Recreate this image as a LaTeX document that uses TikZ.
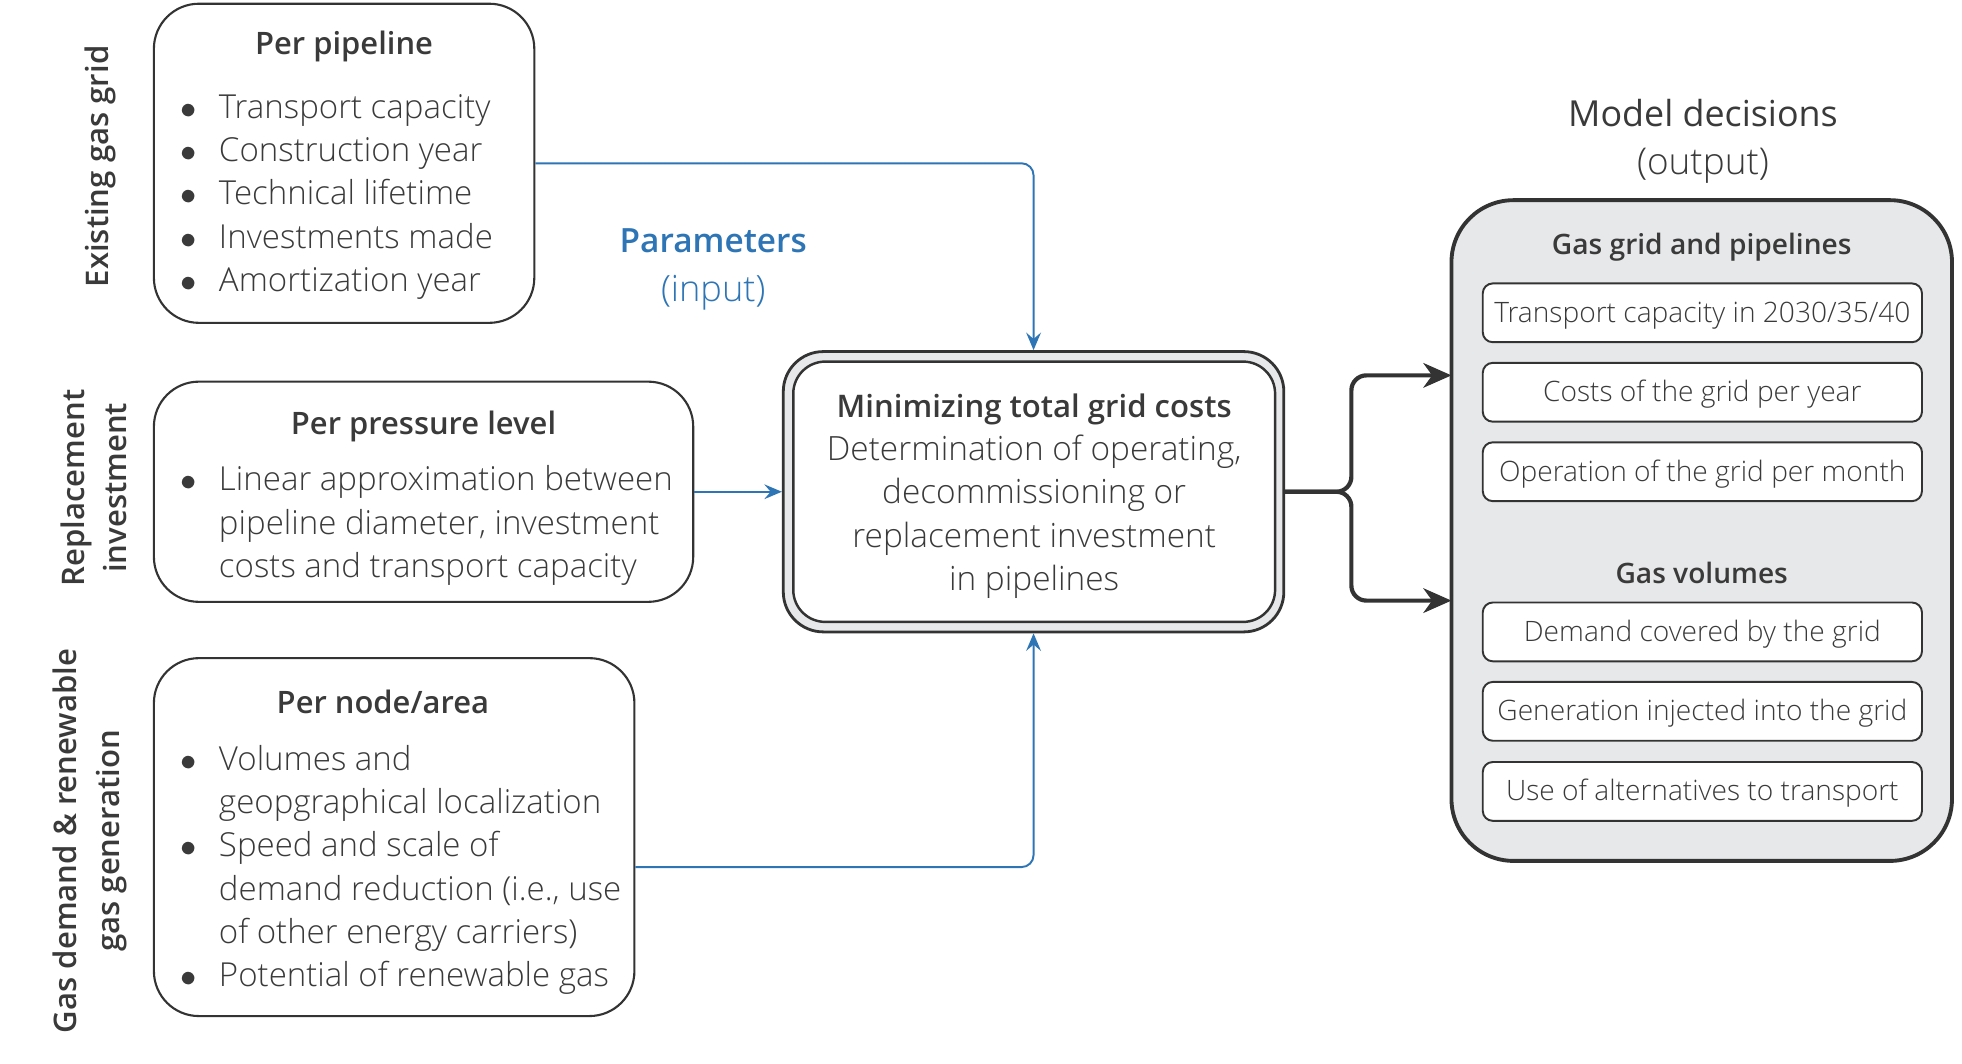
\documentclass[tikz,border=0pt]{standalone}
\usepackage{fontspec}
\setmainfont{Open Sans}[UprightFont=* Light, BoldFont=* Semibold]
\newfontfamily\regfont{Open Sans}
\usetikzlibrary{arrows.meta}

\definecolor{txtgray}{HTML}{3A3A3A}
\definecolor{parblue}{HTML}{2E75B6}
\definecolor{boxgray}{HTML}{E7E8EA}
\definecolor{linegray}{HTML}{333333}

\newlength{\bulw}\setlength{\bulw}{0.388cm}
\newcommand{\bitem}[1]{\par\noindent\makebox[\bulw][l]{$\bullet$}\mbox{#1}}
\newcommand{\bnext}[1]{\par\noindent\hspace*{\bulw}\mbox{#1}}
\newcommand{\boxhead}[2]{{\centering\bfseries\fontsize{8.8}{12.3}\selectfont #1\par}\vspace{#2}\raggedright\leftskip=0.263cm\relax}

\tikzset{
  inbox/.style={draw=linegray, line width=0.6pt, rounded corners=0.45cm, inner sep=0pt, text=txtgray,
    font=\fontsize{9.4}{12.3}\selectfont},
  sidelabel/.style={rotate=90, align=center, text=txtgray, font=\fontsize{8.85}{12.1}\selectfont\bfseries},
  outbox/.style={draw=linegray, fill=white, line width=0.55pt, rounded corners=0.1cm, inner sep=0pt,
    minimum width=4.392cm, minimum height=0.588cm, text height=0.6em, text depth=0.06em,
    text=txtgray, font=\fontsize{8}{12.3}\selectfont},
  subhead/.style={text=txtgray, text height=0.6em, text depth=0.06em, font=\fontsize{8}{12.3}\selectfont\bfseries},
  inarrow/.style={draw=parblue, line width=0.55pt, rounded corners=0.12cm, -{Stealth[length=5pt,width=4.2pt,inset=1.8pt]}},
  outarrow/.style={draw=linegray, line width=1.2pt, rounded corners=0.15cm, -{Stealth[length=8pt,width=7pt,inset=2.5pt]}}
}

\begin{document}
\begin{tikzpicture}[x=0.012513cm, y=-0.012513cm]
    \useasboundingbox (0,0) rectangle (1568,850);

    % input side
    \node[sidelabel] (gridlabel) at (80,133) {Existing gas grid};
    \node[sidelabel] (replabel) at (75,390) {Replacement\\investment};
    \node[sidelabel] (demlabel) at (72,672) {Gas demand \& renewable\\gas generation};

    \node[inbox, minimum width=3.804cm, minimum height=3.191cm] (pipeline) at (275,130.5) {\begin{minipage}{3.804cm}
        \vspace*{1pt}
        \boxhead{Per pipeline}{5.9pt}
        \bitem{Transport capacity}
        \bitem{Construction year}
        \bitem{Technical lifetime}
        \bitem{Investments made}
        \bitem{Amortization year}
    \end{minipage}};
    \node[inbox, minimum width=5.393cm, minimum height=2.202cm] (pressure) at (338.5,393) {\begin{minipage}{5.393cm}
        \vspace*{3.6pt}
        \boxhead{Per pressure level}{3.8pt}
        \bitem{Linear approximation between}
        \bnext{pipeline diameter, investment}
        \bnext{costs and transport capacity}
    \end{minipage}};
    \node[inbox, minimum width=4.805cm, minimum height=3.579cm] (area) at (315,669) {\begin{minipage}{4.805cm}
        \vspace*{2.8pt}
        \boxhead{Per node/area\hspace*{0.225cm}}{4pt}
        \bitem{Volumes and}
        \bnext{geopgraphical localization}
        \bitem{Speed and scale of}
        \bnext{demand reduction (i.e., use}
        \bnext{of other energy carriers)}
        \bitem{Potential of renewable gas}
    \end{minipage}};

    \node[align=center, text=parblue, font=\fontsize{10.3}{13.9}\selectfont] (params) at (570,215) {{\bfseries\fontsize{9.5}{13.9}\selectfont Parameters}\\(input)};

    % model
    \node[draw=linegray, line width=0.8pt, fill=boxgray, rounded corners=0.4cm, minimum width=5.005cm, minimum height=2.803cm] (mincost) at (826,393) {};
    \node[draw=linegray, line width=0.7pt, fill=white, rounded corners=0.32cm, minimum width=4.818cm, minimum height=2.603cm,
        align=center, text=txtgray, font=\fontsize{9.5}{12.3}\selectfont] (mincostin) at (826.5,393)
        {\rule{0pt}{9.2pt}{\bfseries\fontsize{8.85}{12.3}\selectfont Minimizing total grid costs}\\Determination of operating,\\decommissioning or\\replacement investment\\in pipelines};

    % output side
    \node[align=center, text=txtgray, font=\fontsize{10.5}{13.5}\selectfont] (decisionshead) at (1361,113) {{\regfont\fontsize{10.2}{13.5}\selectfont Model decisions}\\(output)};
    \node[draw=linegray, line width=1.1pt, fill=boxgray, rounded corners=0.62cm, minimum width=5.005cm, minimum height=6.607cm] (decisions) at (1360,424) {};
    \node[subhead] (gridhead) at (1360,196) {Gas grid and pipelines};
    \node[outbox] (capout) at (1360.5,250) {Transport capacity in 2030/35/40};
    \node[outbox] (costout) at (1360.5,313.5) {Costs of the grid per year};
    \node[outbox] (operout) at (1360.5,377) {Operation of the grid per month};
    \node[subhead] (volhead) at (1360,459) {Gas volumes};
    \node[outbox] (demout) at (1360.5,505) {Demand covered by the grid};
    \node[outbox] (genout) at (1360.5,568.5) {Generation injected into the grid};
    \node[outbox] (altout) at (1360.5,632.5) {Use of alternatives to transport};

    % connectors
    \draw[inarrow] (pipeline.east) -| (mincost.north);
    \draw[inarrow] (pressure.east) -- (mincost.west);
    \draw[inarrow] ([yshift=-0.3cm]area.east) -| (mincost.south);
    \coordinate (gridin) at (1160,300);
    \coordinate (volin) at (1160,480);
    \draw[outarrow] (mincost.east) -| (1080,300) -- (gridin);
    \draw[outarrow] (mincost.east) -| (1080,480) -- (volin);
\end{tikzpicture}
\end{document}
